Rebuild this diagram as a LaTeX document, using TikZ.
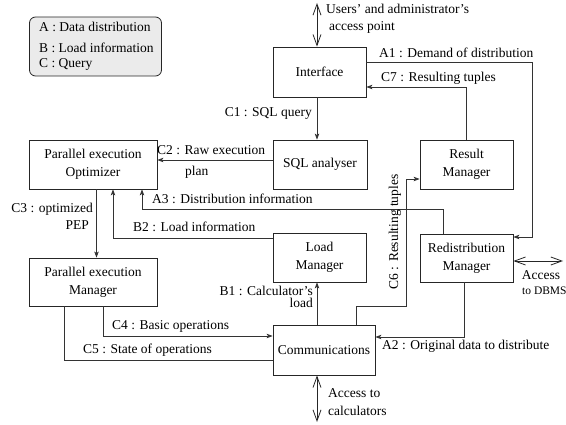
\documentclass[tikz,border=0pt]{standalone}
\usepackage{fontspec}
\setmainfont{Liberation Serif}
\usetikzlibrary{arrows.meta}
\begin{document}
\begin{tikzpicture}[x=1pt,y=-1pt,
  font=\fontsize{13.5}{18}\selectfont,
  box/.style={draw=black!85,line width=0.8pt,align=center,inner sep=0pt},
  lbl/.style={inner sep=0pt},
  link/.style={draw=black!80,line width=0.8pt},
  arr/.style={link,-{Stealth[length=6pt,width=4.5pt,inset=1.5pt]}},
  dbl/.style={draw=black!85,line width=0.8pt,{Straight Barb[length=11pt,width=8pt]}-{Straight Barb[length=11pt,width=8pt]}}]
\useasboundingbox (0,0) rectangle (566,425);

% legend
\node[draw=black!85,line width=0.8pt,rounded corners=6pt,fill=black!8,minimum width=132pt,minimum height=59pt] (legend) at (95.5,46.5) {};
\node[lbl,anchor=base west] (la) at (39,32) {A : Data distribution};
\node[lbl,anchor=base west] (lb) at (39,53) {B : Load information};
\node[lbl,anchor=base west] (lc) at (39,68) {C : Query};

% boxes
\node[box,minimum width=93pt,minimum height=50pt] (iface) at (319.5,72) {Interface};
\node[box,minimum width=94pt,minimum height=49pt] (sql) at (320,164.5) {SQL analyser};
\node[box,minimum width=93pt,minimum height=49pt] (result) at (466.5,164.5) {Result\\Manager};
\node[box,minimum width=128pt,minimum height=49pt] (opt) at (93,164.5) {Parallel execution\\Optimizer};
\node[box,minimum width=128pt,minimum height=48pt] (pem) at (93,282) {Parallel execution\\Manager};
\node[box,minimum width=93pt,minimum height=49pt] (load) at (319.5,257.5) {Load\\Manager};
\node[box,minimum width=93pt,minimum height=48pt] (redist) at (466.5,258) {Redistribution\\Manager};
\node[box,minimum width=102pt,minimum height=50pt] (comm) at (324,350) {Communications};

% free ends
\coordinate (users) at (317,3);
\coordinate (dbms) at (563,261);
\coordinate (calc) at (317,422);

% connectors
\draw[dbl] (users) -- ([xshift=-2.5pt]iface.north);
\draw[arr] ([yshift=10pt]iface.east) -| (532,237) -- ([yshift=21pt]redist.east);
\draw[arr] (result.north) |- ([yshift=-15pt]iface.east);
\draw[arr] ([xshift=-2.5pt]iface.south) -- ([xshift=-3pt]sql.north);
\draw[arr] ([yshift=4.5pt]sql.west) -- ([yshift=4.5pt]opt.east);
\draw[arr] ([xshift=-23.5pt]redist.north) |- (142,209) -- ([xshift=49pt]opt.south);
\draw[arr] ([yshift=19.5pt]load.west) -| ([xshift=20pt]opt.south);
\draw[arr] ([xshift=3.5pt]opt.south) -- ([xshift=3.5pt]pem.north);
\draw[arr] ([xshift=10pt]pem.south) |- ([yshift=14pt]comm.west);
\draw[link] ([xshift=-29pt]pem.south) |- ([yshift=-10pt]comm.west);
\draw[arr] ([xshift=-7pt]comm.north) -- ([xshift=-2.5pt]load.south);
\draw[arr] ([xshift=32pt]comm.north) |- (406,306) |- ([yshift=-14.5pt]result.west);
\draw[arr] ([xshift=-2.5pt]redist.south) |- ([yshift=13pt]comm.east);
\draw[dbl] ([yshift=-3pt]redist.east) -- (dbms);
\draw[dbl] ([xshift=-7pt]comm.south) -- (calc);

% labels
\node[lbl,anchor=base west] (tusers1) at (326,14) {Users' and administrator's};
\node[lbl,anchor=base west] (tusers2) at (329,31) {access point};
\node[lbl,anchor=base west] (ta1) at (379,58) {A1 : Demand of distribution};
\node[lbl,anchor=base west] (tc7) at (381,82) {C7 : Resulting tuples};
\node[lbl,anchor=base east] (tc1) at (312,117) {C1 : SQL query};
\node[lbl,anchor=base west] (tc2) at (157,155) {C2 : Raw execution};
\node[lbl,anchor=base west] (tc2b) at (185,176) {plan};
\node[lbl,anchor=base west] (ta3) at (152,204) {A3 : Distribution information};
\node[lbl,anchor=base east] (tc3) at (93,213) {C3 : optimized};
\node[lbl,anchor=base east] (tc3b) at (89,230) {PEP};
\node[lbl,anchor=base west] (tb2) at (133,232) {B2 : Load information};
\node[lbl,anchor=base east] (tb1) at (313,296) {B1 : Calculator's};
\node[lbl,anchor=base east] (tb1b) at (313,308) {load};
\node[lbl,anchor=base west] (tc4) at (112,330) {C4 : Basic operations};
\node[lbl,anchor=base west] (tc5) at (83,354) {C5 : State of operations};
\node[lbl,rotate=90] (tc6) at (395,232) {C6 : Resulting tuples};
\node[lbl,anchor=base west] (ta2) at (382,349) {A2 : Original data to distribute};
\node[lbl,anchor=base] (tdbms1) at (541,280) {Access};
\node[lbl,anchor=base west,font=\fontsize{11.5}{14}\selectfont] (tdbms2) at (522,295) {to DBMS};
\node[lbl,anchor=base west] (tcalc1) at (328,398) {Access to};
\node[lbl,anchor=base west] (tcalc2) at (328,416) {calculators};
\end{tikzpicture}
\end{document}
